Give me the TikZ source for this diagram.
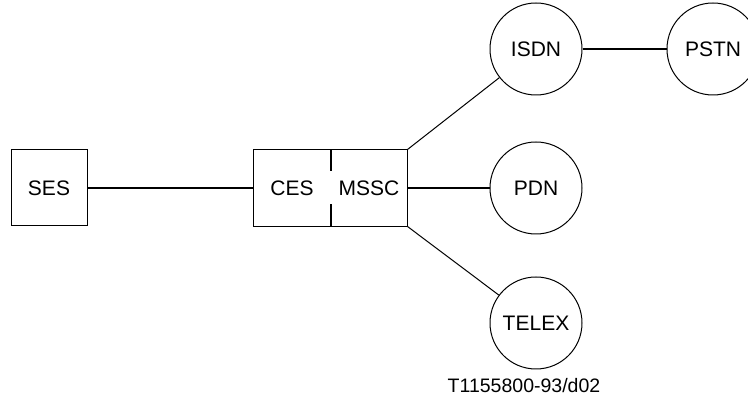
\documentclass[tikz,border=0pt]{standalone}
\usepackage{fontspec}
\setmainfont{Liberation Sans}
\usetikzlibrary{positioning}
\newcommand{\unitfont}{\fontsize{21}{25}\selectfont}
\newcommand{\tagfont}{\fontsize{19.5}{23}\selectfont}

\begin{document}
\begin{tikzpicture}[
    x=1pt, y=1pt,
    unit/.style={draw, line width=1pt, minimum width=76pt, minimum height=76pt, inner sep=0pt, font=\unitfont},
    net/.style={circle, draw, line width=1pt, minimum size=92pt, inner sep=0pt, font=\unitfont},
    link/.style={line width=2pt},
    spoke/.style={line width=1pt}
  ]
  \useasboundingbox (0,0) rectangle (748,398);

  % Earth station side
  \node[unit] (ses) at (49,210) {SES};
  \node[unit, draw=none, right=166pt of ses] (ces) {CES};
  \node[unit, draw=none, right=0pt of ces] (mssc) {MSSC};
  \draw[line width=1pt] (ces.north west) rectangle (mssc.south east);
  \draw[link] (ces.north east) -- ++(0,-22);
  \draw[link] (ces.south east) -- ++(0,22);

  % Networks
  \node[net, right=82pt of mssc] (pdn) {PDN};
  \node[net, above=46pt of pdn] (isdn) {ISDN};
  \node[net, below=42pt of pdn] (telex) {TELEX};
  \node[net, right=84pt of isdn] (pstn) {PSTN};
  \node[font=\tagfont, below=5pt of telex, xshift=-12pt] (tag) {T1155800-93/d02};

  % Links
  \draw[link] (ses.east) -- (ces.west);
  \draw[link] (mssc.east) -- (pdn.west);
  \draw[link] (isdn.east) -- (pstn.west);
  \draw[spoke] (mssc.north east) -- (isdn);
  \draw[spoke] (mssc.south east) -- (telex);

\end{tikzpicture}
\end{document}
